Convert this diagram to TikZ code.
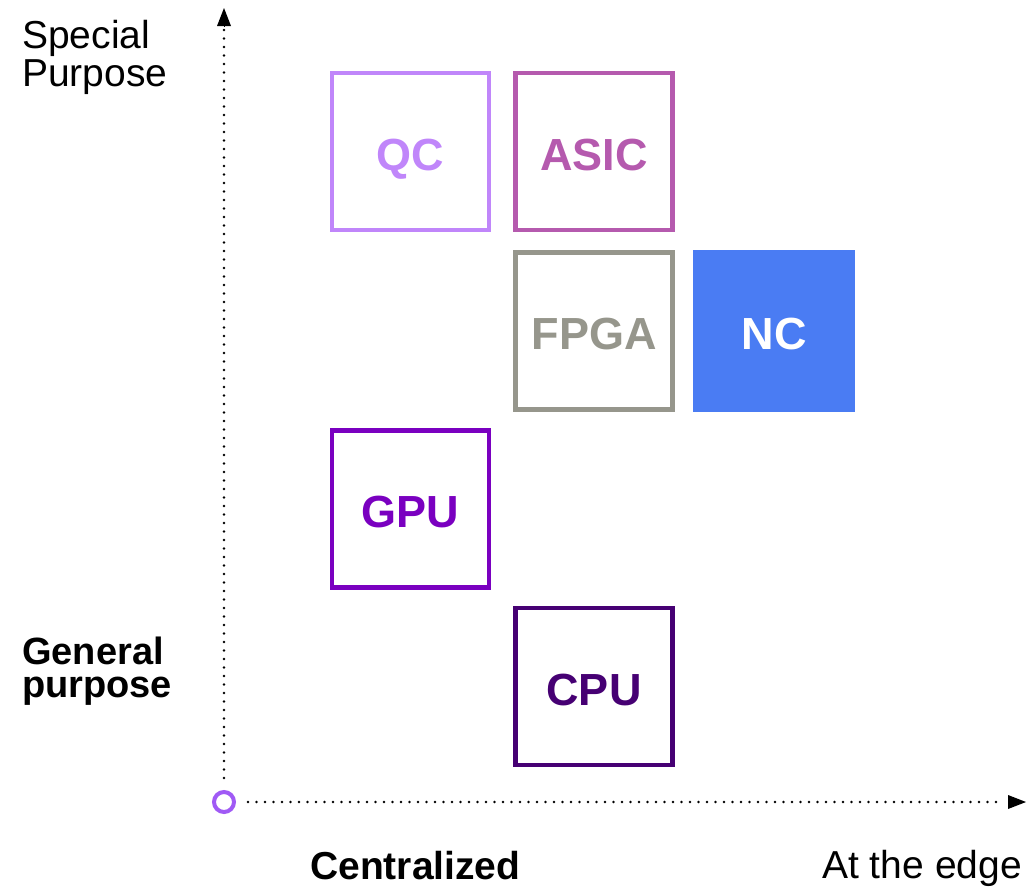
\documentclass[tikz,border=0pt]{standalone}
\usepackage{fontspec}
\setmainfont{Liberation Sans}
\usetikzlibrary{arrows.meta,positioning}
\definecolor{qc purple}{RGB}{192,134,250}
\definecolor{asic magenta}{RGB}{181,90,174}
\definecolor{fpga grey}{RGB}{150,150,140}
\definecolor{nc blue}{RGB}{74,124,243}
\definecolor{gpu purple}{RGB}{122,0,192}
\definecolor{cpu purple}{RGB}{70,0,115}
\definecolor{origin purple}{RGB}{160,90,245}
\tikzstyle{chip} = [rectangle,draw,line width=4.5pt,minimum size=157pt,inner sep=0pt,text height=37pt,text depth=0pt,font=\bfseries\fontsize{45}{45}\selectfont]
\tikzstyle{axis} = [line width=2.8pt,line cap=round,dash pattern=on 0pt off 8.5pt]
\tikzstyle{axislabel} = [inner sep=0pt,align=left,font=\fontsize{39}{38}\selectfont]

\begin{document}
\begin{tikzpicture}[x=1pt,y=-1pt]
		\useasboundingbox (0,0) rectangle (1027,886);
		\node[circle,draw=origin purple,line width=4pt,minimum size=20pt,inner sep=0pt] (o) at (224,802) {};
		\coordinate (ytip) at (224,8);
		\coordinate (xtip) at (1026,802);
		\draw[axis] (o.north) ++(0,-12) to (224,30);
		\draw[axis] (o.east) ++(12,0) to (1004,802);
		\draw[line width=0pt,-{Triangle[length=18pt,width=14pt]}] (224,26) to (ytip);
		\draw[line width=0pt,-{Triangle[length=18pt,width=14pt]}] (1008,802) to (xtip);
		
		\node[chip,draw=qc purple,text=qc purple] (qc) at (410.5,151.5) {QC};
		\node[chip,draw=asic magenta,text=asic magenta] (asic) at (594,151.5) {ASIC};
		\node[chip,draw=fpga grey,text=fpga grey] (fpga) at (594,331) {FPGA};
		\node[chip,draw=nc blue,fill=nc blue,text=white] (nc) at (774,331) {NC};
		\node[chip,draw=gpu purple,text=gpu purple] (gpu) at (410.5,509) {GPU};
		\node[chip,draw=cpu purple,text=cpu purple] (cpu) at (594,686.5) {CPU};
		
		\node[axislabel,anchor=base west] (special) at (22,86) {Special\\Purpose};
		\node[axislabel,anchor=base west,font=\bfseries\fontsize{38}{33}\selectfont] (general) at (22,697) {General\\purpose};
		\node[axislabel,anchor=base west,font=\bfseries\fontsize{39}{38}\selectfont] (central) at (310,879) {Centralized};
		\node[axislabel,anchor=base east] (edge) at (1022,878) {At the edge};
	\end{tikzpicture}
\end{document}
